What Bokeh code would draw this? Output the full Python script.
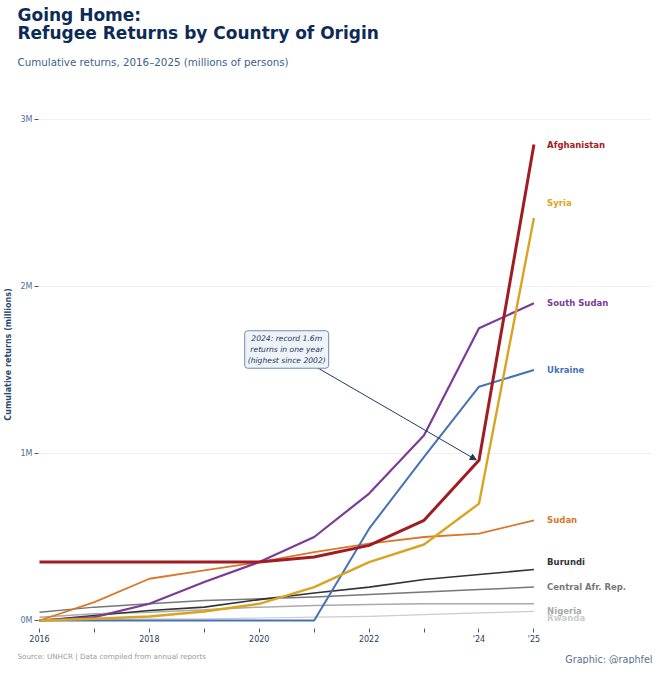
from bokeh.plotting import figure
from bokeh.layouts import column
from bokeh.models import Label, Arrow, NormalHead, FixedTicker, Range1d
from bokeh.core.properties import value
from bokeh.embed import file_html
from bokeh.resources import INLINE

years = [2016, 2017, 2018, 2019, 2020, 2021, 2022, 2023, 2024, 2025]
afghanistan = [0.35, 0.35, 0.35, 0.35, 0.35, 0.38, 0.45, 0.60, 0.96, 2.85]
syria = [0.0, 0.01, 0.024, 0.054, 0.10, 0.20, 0.35, 0.455, 0.70, 2.41]
south_sudan = [0.0, 0.02, 0.10, 0.23, 0.35, 0.50, 0.76, 1.11, 1.75, 1.90]
ukraine = [0.0, 0.0, 0.0, 0.0, 0.0, 0.0, 0.55, 0.98, 1.40, 1.50]
sudan = [0.0, 0.11, 0.25, 0.30, 0.35, 0.41, 0.46, 0.50, 0.52, 0.60]
burundi = [0.0, 0.03, 0.06, 0.08, 0.125, 0.165, 0.20, 0.245, 0.275, 0.305]
car = [0.05, 0.08, 0.10, 0.12, 0.13, 0.14, 0.155, 0.17, 0.185, 0.20]
nigeria = [0.02, 0.04, 0.05, 0.065, 0.08, 0.09, 0.095, 0.10, 0.10, 0.10]
rwanda = [0.0, 0.005, 0.01, 0.01, 0.015, 0.02, 0.025, 0.035, 0.045, 0.055]

countries = ["Afghanistan", "Syria", "South Sudan", "Ukraine", "Sudan",
             "Burundi", "Central Afr. Rep.", "Nigeria", "Rwanda"]
series = [afghanistan, syria, south_sudan, ukraine, sudan, burundi, car, nigeria, rwanda]
label_y = [2.85, 2.50, 1.90, 1.50, 0.60, 0.35, 0.20, 0.056, 0.016]

x_ticks = [2016, 2017, 2018, 2019, 2020, 2021, 2022, 2023, 2024, 2025]
x_tick_labels = ["2016", "", "2018", "", "2020", "", "2022", "", "'24", "'25"]
y_ticks = [0, 1, 2, 3]
y_tick_labels = ["0M", "1M", "2M", "3M"]

colors = ["#a01c22", "#d9a521", "#7b3b96", "#4472b8", "#d9772b",
          "#333333", "#777777", "#aaaaaa", "#cccccc"]
widths = [3.0, 2.4, 2.2, 2.0, 1.8, 1.6, 1.5, 1.5, 1.2]

FONT = "DejaVu Sans"
NAVY = "#0d2b57"
W = 654


def text_strip(height):
    f = figure(width=W, height=height, output_backend="svg", toolbar_location=None,
               x_range=Range1d(0, W), y_range=Range1d(0, height),
               x_axis_type=None, y_axis_type=None,
               min_border_left=0, min_border_right=0, min_border_top=0,
               min_border_bottom=0, frame_align=False)
    f.outline_line_color = None
    f.xgrid.visible = False
    f.ygrid.visible = False
    f.background_fill_color = "white"
    f.border_fill_color = "white"
    return f


# ---- header ----
header = text_strip(80)
header.add_layout(Label(x=17, y=65.3, text="Going Home:", text_font=FONT,
                        text_font_size="17px", text_font_style="bold",
                        text_color=NAVY, text_baseline="alphabetic"))
header.add_layout(Label(x=17, y=47.5, text="Refugee Returns by Country of Origin",
                        text_font=FONT, text_font_size="17px", text_font_style="bold",
                        text_color=NAVY, text_baseline="alphabetic"))
header.add_layout(Label(x=17, y=18.3,
                        text="Cumulative returns, 2016\u20132025 (millions of persons)",
                        text_font=FONT, text_font_size="10.3px", text_color="#3d5f8a",
                        text_baseline="alphabetic"))

# ---- main chart ----
p = figure(width=W, height=566, output_backend="svg", toolbar_location=None,
           x_range=Range1d(2015.982, 2027.14), y_range=Range1d(-0.048, 3.234),
           min_border_left=35, min_border_right=3, min_border_top=0,
           min_border_bottom=18, frame_align=False)
p.outline_line_color = None
p.background_fill_color = "white"
p.border_fill_color = "white"

p.xgrid.grid_line_color = None
p.ygrid.ticker = FixedTicker(ticks=[1, 2, 3])
p.ygrid.grid_line_color = "#f0f0f0"
p.ygrid.grid_line_width = 1

p.xaxis.ticker = FixedTicker(ticks=x_ticks)
p.xaxis.major_label_overrides = {t: l for t, l in zip(x_ticks, x_tick_labels)}
p.yaxis.ticker = FixedTicker(ticks=y_ticks)
p.yaxis.major_label_overrides = {t: l for t, l in zip(y_ticks, y_tick_labels)}
for ax in (p.xaxis, p.yaxis):
    ax.axis_line_color = None
    ax.major_tick_in = 0
    ax.major_tick_out = 4
    ax.minor_tick_line_color = None
    ax.major_tick_line_color = "#555555"
    ax.major_label_text_font = FONT
    ax.major_label_text_font_size = "8px"
    ax.major_label_standoff = 2
p.xaxis.major_label_text_color = "#1f3a5f"
p.yaxis.major_label_text_color = "#4d6f96"
p.yaxis.axis_label = "Cumulative returns (millions)"
p.yaxis.axis_label_text_font = FONT
p.yaxis.axis_label_text_font_size = "8px"
p.yaxis.axis_label_text_font_style = "bold"
p.yaxis.axis_label_text_color = "#2c4a70"
p.yaxis.axis_label_standoff = 5

# lines (Afghanistan drawn last so it is on top)
for i in list(range(len(countries)))[::-1]:
    p.line(years, series[i], line_color=colors[i], line_width=widths[i],
           line_join="round")

# end labels
for name, ly, c in zip(countries, label_y, colors):
    p.text(x=[2025.24], y=[ly], text=[name], text_color=c,
           text_font=value(FONT), text_font_size="8.5px", text_font_style="bold",
           text_baseline="middle", text_align="left")

# annotation
p.add_layout(Arrow(end=NormalHead(size=6, fill_color="#1f3a5f", line_color="#1f3a5f"),
                   x_start=2021.02, y_start=1.521, x_end=2023.95, y_end=0.962,
                   line_color="#1f3a5f", line_width=1))
p.add_layout(Label(x=2020.50, y=1.623,
                   text="2024: record 1.6m\nreturns in one year\n(highest since 2002)",
                   text_font=FONT, text_font_size="7.6px", text_font_style="italic",
                   text_color="#1f3a5f", text_align="center", text_baseline="middle",
                   text_line_height=1.25,
                   background_fill_color="#eef3f8", border_line_color="#6f8db0",
                   border_line_width=1, padding=3, border_radius=3))

# ---- footer ----
footer = text_strip(18)
footer.add_layout(Label(x=17, y=8, text="Source: UNHCR | Data compiled from annual reports",
                        text_font=FONT, text_font_size="7.2px", text_color="#999999",
                        text_baseline="middle"))
footer.add_layout(Label(x=652, y=5.5, text="Graphic: @raphfel", text_font=FONT,
                        text_font_size="9.6px", text_color="#5a7190",
                        text_align="right", text_baseline="middle"))

layout = column(header, p, footer, spacing=0)
open("out.html", "w").write(file_html(layout, INLINE))
